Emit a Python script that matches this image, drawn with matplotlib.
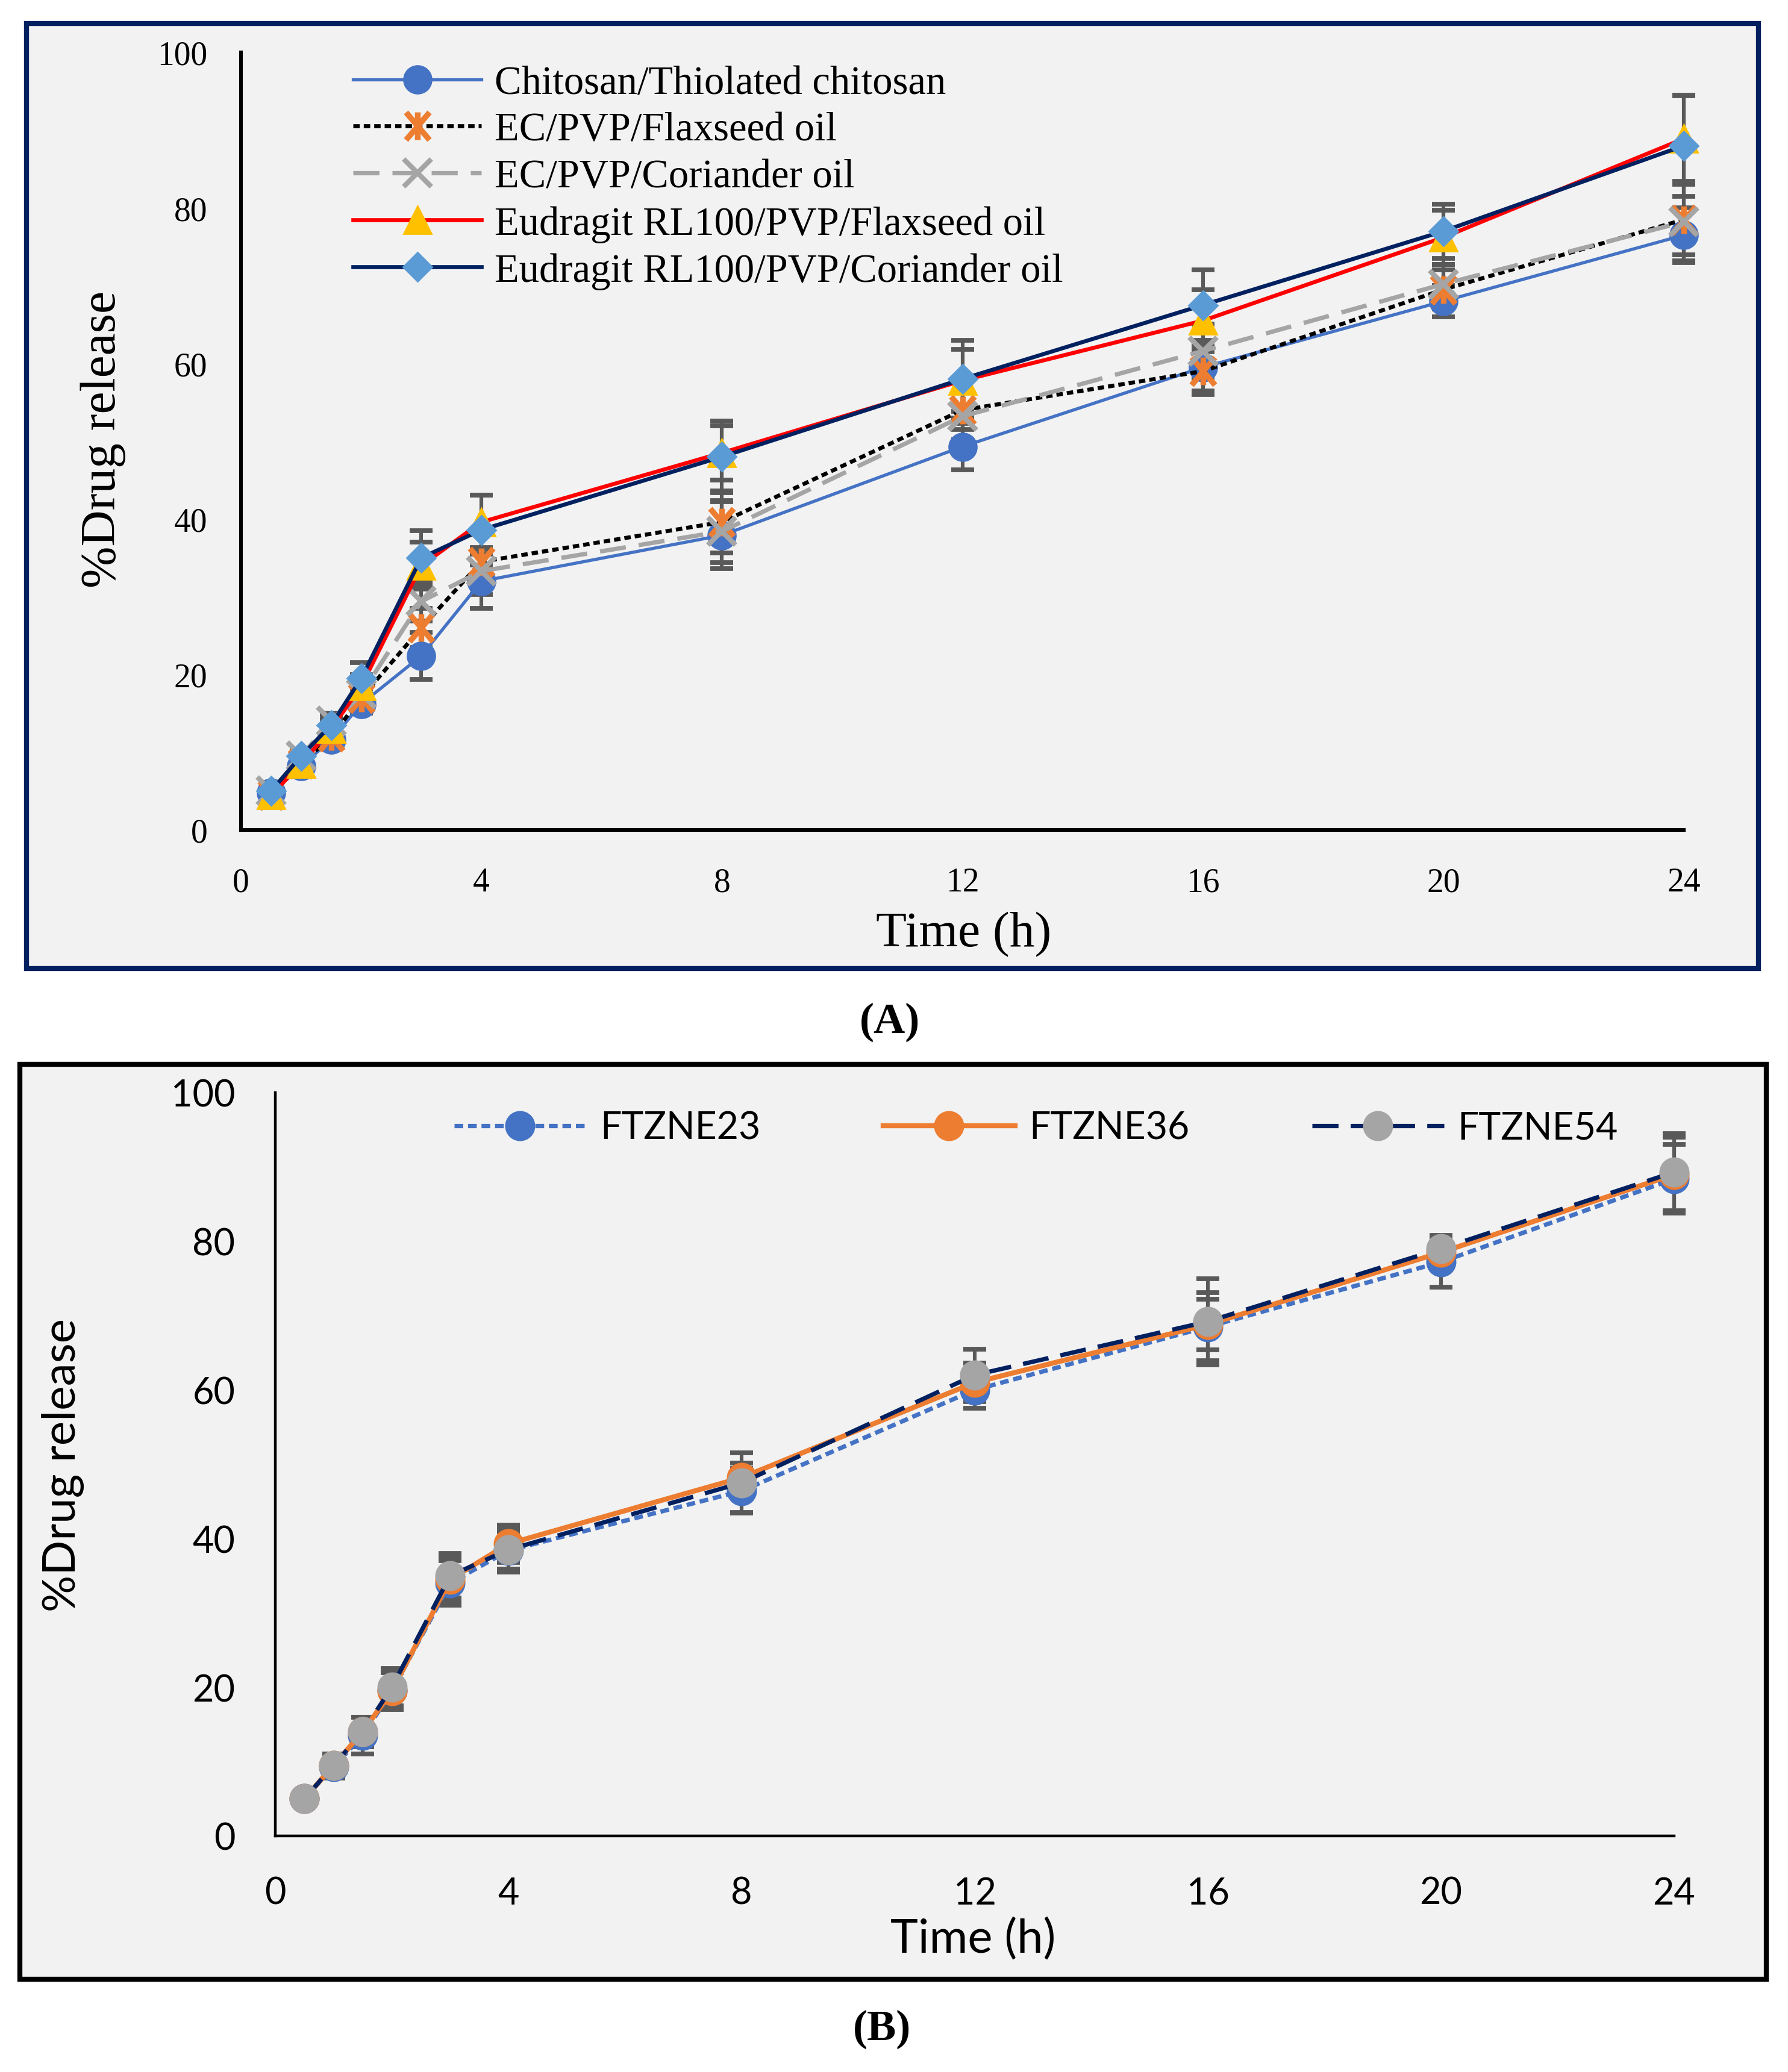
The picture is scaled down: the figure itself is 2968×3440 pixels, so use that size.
import matplotlib.pyplot as plt
import numpy as np
from matplotlib.path import Path
from matplotlib.patches import Rectangle

# time points (h)
time = [0.5, 1, 1.5, 2, 3, 4, 8, 12, 16, 20, 24]

# panel A - % drug release and error
chitosan = [4.8, 8.2, 11.6, 16.2, 22.4, 32.0, 37.9, 49.3, 59.5, 68.0, 76.5]
chitosan_err = [0.5, 0.8, 1.0, 1.2, 3.0, 3.5, 4.3, 3.0, 3.0, 2.0, 3.5]
ec_flax = [4.5, 8.5, 12.0, 17.0, 26.0, 34.5, 39.6, 54.0, 59.0, 69.5, 78.5]
ec_flax_err = [0.5, 0.8, 1.0, 1.2, 2.5, 3.5, 4.0, 2.5, 3.0, 2.5, 4.5]
ec_cor = [5.0, 9.5, 14.0, 17.5, 29.4, 33.3, 38.4, 53.2, 61.6, 70.2, 78.2]
ec_cor_err = [0.5, 0.8, 1.0, 1.5, 2.5, 3.0, 4.0, 3.0, 3.5, 2.5, 5.0]
eud_flax = [4.5, 8.5, 13.0, 18.5, 34.0, 39.6, 48.5, 57.8, 65.5, 76.2, 88.9]
eud_flax_err = [0.5, 0.8, 1.0, 1.5, 3.0, 3.5, 3.5, 4.0, 4.0, 3.5, 5.5]
eud_cor = [5.0, 9.5, 13.5, 19.5, 35.0, 38.6, 48.0, 58.0, 67.5, 77.0, 88.0]
eud_cor_err = [0.5, 0.8, 1.0, 2.0, 3.5, 4.5, 4.6, 5.0, 4.5, 3.5, 6.5]

# panel B
ftzne23 = [5.0, 9.3, 13.5, 19.5, 34.0, 38.4, 46.4, 60.0, 68.5, 77.2, 88.4]
ftzne23_err = [0.5, 1.5, 2.5, 2.5, 3.0, 2.5, 3.0, 2.5, 4.6, 3.4, 4.6]
ftzne36 = [5.0, 9.5, 14.0, 19.5, 34.5, 39.3, 48.2, 61.0, 68.8, 78.5, 89.0]
ftzne36_err = [0.5, 1.5, 2.0, 2.5, 3.0, 2.5, 2.0, 2.6, 3.4, 2.0, 5.0]
ftzne54 = [5.0, 9.5, 14.0, 20.0, 35.0, 38.5, 47.5, 62.0, 69.2, 79.0, 89.3]
ftzne54_err = [0.5, 1.5, 2.0, 2.5, 3.0, 3.0, 4.0, 3.5, 5.8, 1.8, 5.2]

W, H = 2968, 3441
fig = plt.figure(figsize=(W / 200, H / 200), dpi=200)
fig.patch.set_facecolor('white')

def px(x0, y0, x1, y1):
    # pixel box (top-left origin) -> figure fraction [l, b, w, h]
    return [x0 / W, 1 - y1 / H, (x1 - x0) / W, (y1 - y0) / H]

# panel frames (behind the axes)
fig.patches.append(Rectangle((44 / W, 1 - 1609 / H), (2919 - 44) / W, (1609 - 40) / H,
                             transform=fig.transFigure, facecolor='#F2F2F2',
                             edgecolor='#002060', linewidth=3, zorder=-5))
fig.patches.append(Rectangle((33 / W, 1 - 3287 / H), (2932 - 33) / W, (3287 - 1768) / H,
                             transform=fig.transFigure, facecolor='#F2F2F2',
                             edgecolor='black', linewidth=3, zorder=-5))

err_kw = dict(fmt='none', ecolor='#595959', elinewidth=2.2, capsize=6.8,
              capthick=2.8, clip_on=False)

star = Path([(-0.85, -1), (0.85, 1), (-0.85, 1), (0.85, -1), (0, -1), (0, 1)],
            [Path.MOVETO, Path.LINETO, Path.MOVETO, Path.LINETO, Path.MOVETO, Path.LINETO])

# ---------------- panel A ----------------
serif = ['Liberation Serif', 'DejaVu Serif']
axA = fig.add_axes(px(400, 88, 2795, 1379))
axA.set_facecolor('none')

seriesA = [
    ("Chitosan/Thiolated chitosan", chitosan, chitosan_err,
     dict(color='#4472C4', lw=1.9, ls='-', marker='o', ms=16.5, mfc='#4472C4', mec='#4472C4')),
    ("EC/PVP/Flaxseed oil", ec_flax, ec_flax_err,
     dict(color='black', lw=2.4, ls=(0, (1.6, 1.0)), marker=star, ms=16.5, mfc='none',
          mec='#ED7D31', mew=3.4)),
    ("EC/PVP/Coriander oil", ec_cor, ec_cor_err,
     dict(color='#A5A5A5', lw=2.6, ls=(0, (6, 3)), marker='x', ms=16.5, mec='#A5A5A5', mew=3.0)),
    ("Eudragit RL100/PVP/Flaxseed oil", eud_flax, eud_flax_err,
     dict(color='#FF0000', lw=2.4, ls='-', marker='^', ms=16.5, mfc='#FFC000', mec='#FFC000')),
    ("Eudragit RL100/PVP/Coriander oil", eud_cor, eud_cor_err,
     dict(color='#002060', lw=2.4, ls='-', marker='D', ms=12, mfc='#5B9BD5', mec='#5B9BD5')),
]
for i, (lab, y, e, st) in enumerate(seriesA):
    axA.errorbar(time, y, yerr=e, zorder=2 + i * 0.1, **err_kw)
for i, (lab, y, e, st) in enumerate(seriesA):
    axA.plot(time, y, label=lab, zorder=3 + i * 0.1, clip_on=False, **st)

axA.set_xlim(0, 24)
axA.set_ylim(0, 100)
axA.set_xticks([0, 4, 8, 12, 16, 20, 24])
axA.set_yticks([0, 20, 40, 60, 80, 100])
axA.tick_params(length=0, labelsize=20)
axA.tick_params(axis='x', pad=22)
axA.tick_params(axis='y', pad=20)
for t in axA.get_xticklabels() + axA.get_yticklabels():
    t.set_family(serif)
for s in ['top', 'right']:
    axA.spines[s].set_visible(False)
for s in ['left', 'bottom']:
    axA.spines[s].set_linewidth(2.2)
axA.text(0.501, -0.134, "Time (h)", transform=axA.transAxes, ha='center', va='center',
         fontsize=30, family=serif)
axA.text(-0.0956, 0.503, "%Drug release", transform=axA.transAxes, ha='center', va='center',
         rotation=90, fontsize=30, family=serif)
legA = axA.legend(loc='upper left', bbox_to_anchor=(586 / W, 1 - 109 / H),
                  bbox_transform=fig.transFigure, frameon=False, borderpad=0,
                  borderaxespad=0, handlelength=3.2, handletextpad=0.32,
                  labelspacing=0.25, prop=dict(family=serif, size=24))

fig.text(1477 / W, 1 - 1697 / H, "(A)", ha='center', va='center', fontsize=26,
         family=serif, fontweight='bold')

# ---------------- panel B ----------------
sans = ['Lato', 'DejaVu Sans']
axB = fig.add_axes(px(457, 1815, 2779, 3049))
axB.set_facecolor('none')

seriesB = [
    ("FTZNE23", ftzne23, ftzne23_err,
     dict(color='#4472C4', lw=2.6, ls=(0, (2.0, 1.1)), marker='o', ms=17, mfc='#4472C4', mec='#4472C4')),
    ("FTZNE36", ftzne36, ftzne36_err,
     dict(color='#ED7D31', lw=3.0, ls='-', marker='o', ms=17, mfc='#ED7D31', mec='#ED7D31')),
    ("FTZNE54", ftzne54, ftzne54_err,
     dict(color='#002060', lw=2.6, ls=(0, (6, 2.8)), marker='o', ms=17, mfc='#A5A5A5', mec='#A5A5A5')),
]
for i, (lab, y, e, st) in enumerate(seriesB):
    axB.errorbar(time, y, yerr=e, zorder=2 + i * 0.1, **err_kw)
for i, (lab, y, e, st) in enumerate(seriesB):
    axB.plot(time, y, label=lab, zorder=3 + i * 0.1, clip_on=False, **st)

axB.set_xlim(0, 24)
axB.set_ylim(0, 100)
axB.set_xticks([0, 4, 8, 12, 16, 20, 24])
axB.set_yticks([0, 20, 40, 60, 80, 100])
axB.tick_params(length=0, labelsize=22)
axB.tick_params(axis='x', pad=24)
axB.tick_params(axis='y', pad=24)
for t in axB.get_xticklabels() + axB.get_yticklabels():
    t.set_family(sans)
for s in ['top', 'right']:
    axB.spines[s].set_visible(False)
for s in ['left', 'bottom']:
    axB.spines[s].set_linewidth(1.6)
axB.text(0.499, -0.1386, "Time (h)", transform=axB.transAxes, ha='center', va='center',
         fontsize=28, family=sans)
axB.text(-0.1516, 0.5, "%Drug release", transform=axB.transAxes, ha='center', va='center',
         rotation=90, fontsize=27.5, family=sans)
axB.legend(loc='center', bbox_to_anchor=(1720 / W, 1 - 1874 / H),
           bbox_transform=fig.transFigure, frameon=False, ncol=3, borderpad=0,
           handlelength=3.5, handletextpad=0.37, columnspacing=3.26,
           prop=dict(family=sans, size=22.5))

fig.text(1464 / W, 1 - 3369 / H, "(B)", ha='center', va='center', fontsize=26,
         family=serif, fontweight='bold')

fig.savefig('out.png', dpi=200)
